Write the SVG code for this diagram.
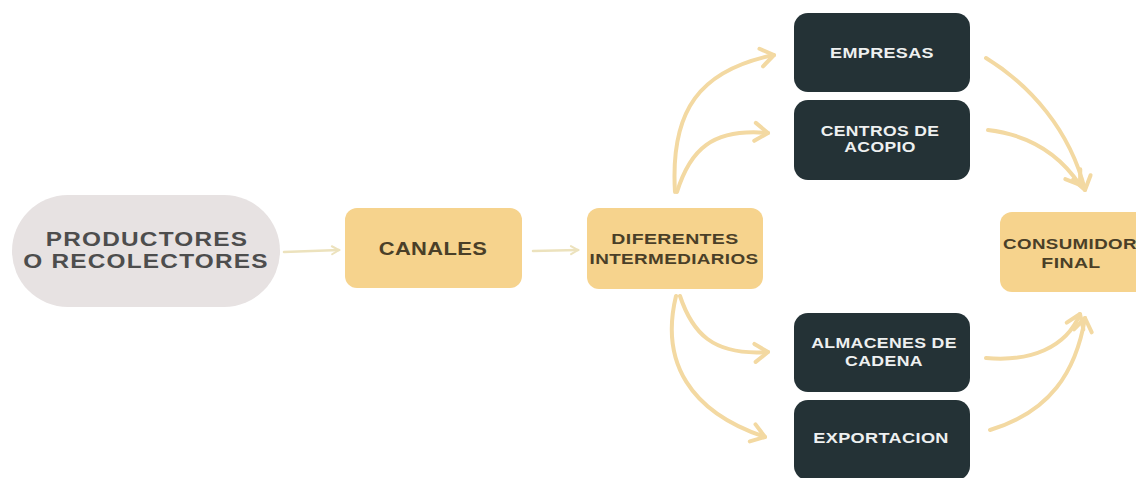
<svg xmlns="http://www.w3.org/2000/svg" width="1136" height="478" viewBox="0 0 1136 478">
<style>
.t{font-family:"Liberation Sans",Arial,sans-serif;font-weight:bold;text-anchor:middle}
.dark{fill:#243236}
.yel{fill:#f6d38d}
.wt{fill:#eef0f0;font-size:15px;letter-spacing:0.3px}
.bt{fill:#4a3f28;font-size:15px;letter-spacing:0.3px}
.pt{fill:#4d4d4d;font-size:20px;letter-spacing:1px}
.c{fill:none;stroke:#f3d9a2;stroke-width:4;stroke-linecap:round;marker-end:url(#ah)}
.cs{fill:none;stroke:#ece2bd;stroke-width:2.5;stroke-linecap:round;marker-end:url(#ahs)}
</style>
<defs>
<marker id="ah" markerUnits="userSpaceOnUse" viewBox="-16 -12 20 24" refX="0" refY="0" markerWidth="20" markerHeight="24" orient="auto">
<path d="M -13 -9 L 0 0 L -13 9" fill="none" stroke="#f3d9a2" stroke-width="4" stroke-linecap="round" stroke-linejoin="round"/>
</marker>
<marker id="ahs" markerUnits="userSpaceOnUse" viewBox="-10 -6 12 12" refX="0" refY="0" markerWidth="12" markerHeight="12" orient="auto">
<path d="M -7 -4 L 0 0 L -7 4" fill="none" stroke="#ece2bd" stroke-width="2" stroke-linecap="round"/>
</marker>
</defs>
<rect width="1136" height="478" fill="#ffffff"/>
<g id="connectors">
<path class="cs" d="M 284 252 L 339 250"/>
<path class="cs" d="M 533 251 L 578 250"/>
<path class="c" d="M 675 192 C 670 110, 700 70, 774 55"/>
<path class="c" d="M 677 192 C 690 150, 712 128, 768 133"/>
<path class="c" d="M 680 296 C 692 332, 712 356, 768 352"/>
<path class="c" d="M 676 296 C 660 362, 690 412, 765 437"/>
<path class="c" d="M 986 58 C 1030 85, 1070 130, 1085 190"/>
<path class="c" d="M 988 130 C 1030 135, 1060 155, 1080 185"/>
<path class="c" d="M 986 358 C 1030 362, 1066 348, 1080 314"/>
<path class="c" d="M 990 430 C 1050 412, 1076 372, 1085 318"/>
</g>
<g id="productores">
<rect x="12" y="195" width="268" height="112" rx="56" fill="#e7e2e2"/>
<text class="t pt" transform="translate(147 246) scale(1.22 1)">PRODUCTORES</text>
<text class="t pt" transform="translate(146 268) scale(1.22 1)">O RECOLECTORES</text>
</g>
<g id="canales">
<rect class="yel" x="345" y="208" width="177" height="80" rx="12"/>
<text class="t bt" style="font-size:18px" transform="translate(433 255) scale(1.22 1)">CANALES</text>
</g>
<g id="intermediarios">
<rect class="yel" x="587" y="208" width="176" height="81" rx="12"/>
<text class="t bt" transform="translate(675 244) scale(1.3 1)">DIFERENTES</text>
<text class="t bt" transform="translate(674 264) scale(1.26 1)">INTERMEDIARIOS</text>
</g>
<g id="empresas">
<rect class="dark" x="794" y="13" width="176" height="79" rx="14"/>
<text class="t wt" transform="translate(882 58) scale(1.2 1)">EMPRESAS</text>
</g>
<g id="centros">
<rect class="dark" x="794" y="100" width="176" height="80" rx="14"/>
<text class="t wt" transform="translate(880 136) scale(1.17 1)">CENTROS DE</text>
<text class="t wt" transform="translate(880 152) scale(1.17 1)">ACOPIO</text>
</g>
<g id="almacenes">
<rect class="dark" x="794" y="313" width="176" height="79" rx="14"/>
<text class="t wt" transform="translate(884 348) scale(1.18 1)">ALMACENES DE</text>
<text class="t wt" transform="translate(884 366) scale(1.18 1)">CADENA</text>
</g>
<g id="exportacion">
<rect class="dark" x="794" y="400" width="176" height="80" rx="14"/>
<text class="t wt" transform="translate(881 443) scale(1.21 1)">EXPORTACION</text>
</g>
<g id="consumidor">
<rect class="yel" x="1000" y="212" width="150" height="80" rx="12"/>
<text class="t bt" transform="translate(1070 249) scale(1.25 1)">CONSUMIDOR</text>
<text class="t bt" transform="translate(1071 268) scale(1.3 1)">FINAL</text>
</g>
</svg>
